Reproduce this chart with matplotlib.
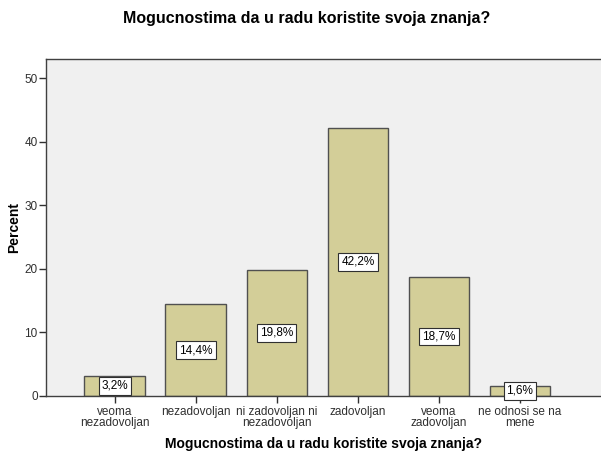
import matplotlib
matplotlib.use("Agg")
import matplotlib.pyplot as plt

plt.rcParams['font.family'] = ['Liberation Sans', 'DejaVu Sans']

#data
categories = ["veoma\nnezadovoljan", "nezadovoljan", "ni zadovoljan ni\nnezadovoljan",
              "zadovoljan", "veoma\nzadovoljan", "ne odnosi se na\nmene"]
percent = [3.2, 14.4, 19.8, 42.2, 18.7, 1.6]
labels = ["3,2%", "14,4%", "19,8%", "42,2%", "18,7%", "1,6%"]
title = "Mogucnostima da u radu koristite svoja znanja?"

fig = plt.figure(figsize=(6.01, 4.54), dpi=100)
ax = fig.add_axes([0.0765, 0.128, 0.9235, 0.742])
ax.set_facecolor("#F0F0F0")

x = list(range(len(categories)))
ax.bar(x, percent, width=0.75, color="#D3CE98", edgecolor="#505050", linewidth=1.0, zorder=2)

#value labels in the middle of each bar
for i in x:
    ax.text(i, percent[i] / 2, labels[i], ha="center", va="center", fontsize=8.5,
            bbox=dict(boxstyle="square,pad=0.25", facecolor="white", edgecolor="#303030", linewidth=0.8),
            zorder=3)

ax.set_xlim(-0.85, 6.0)
ax.set_ylim(0, 53)
ax.set_yticks([0, 10, 20, 30, 40, 50])
ax.set_xticks(x)
ax.set_xticklabels(categories, fontsize=8.5, color="#303030", linespacing=0.95)
ax.tick_params(axis="y", labelsize=8.5, colors="#303030", length=5, width=1, pad=1)
ax.tick_params(axis="x", length=5, width=1, color="#303030", pad=2)

for s in ["right"]:
    ax.spines[s].set_visible(False)
for s in ["left", "top", "bottom"]:
    ax.spines[s].set_color("#404040")
    ax.spines[s].set_linewidth(1.0)

ax.set_ylabel("Percent", fontsize=10, fontweight="bold", labelpad=2)
ax.set_xlabel(title, fontsize=10, fontweight="bold", labelpad=6)
fig.text(0.511, 0.96, title, ha="center", va="center", fontsize=11.5, fontweight="bold")

fig.savefig("out.png", dpi=100)
